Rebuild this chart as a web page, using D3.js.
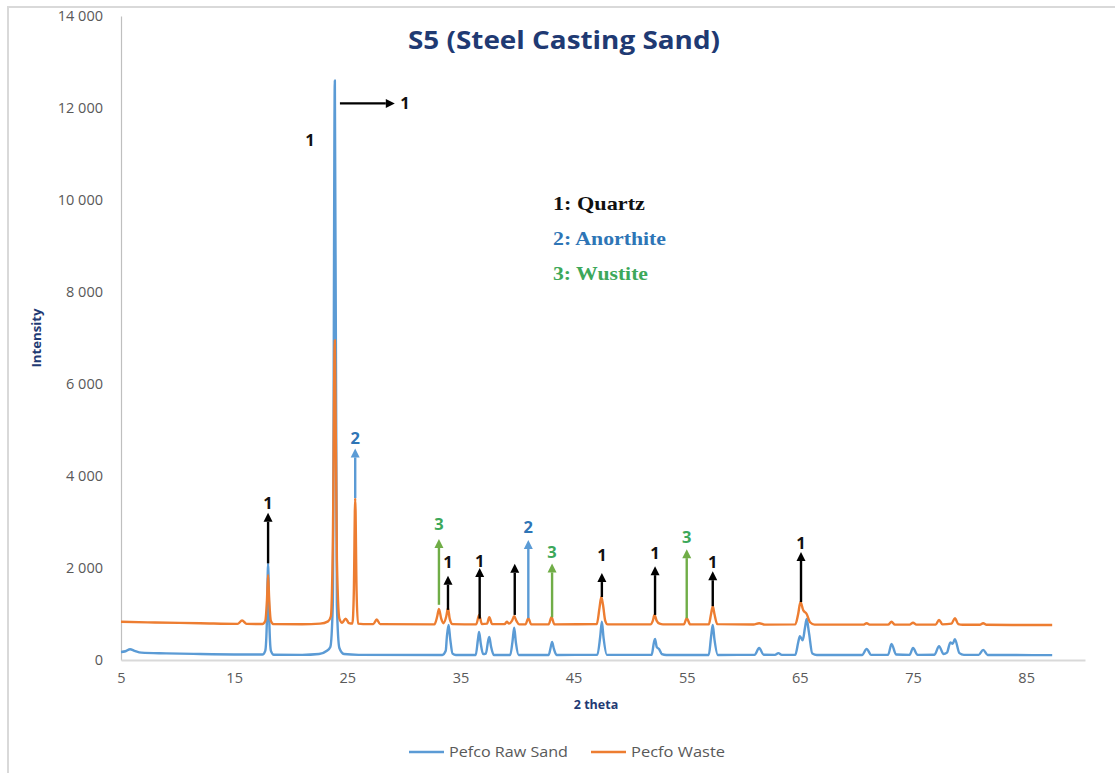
<!DOCTYPE html>
<html>
<head>
<meta charset="utf-8">
<script src="https://cdn.jsdelivr.net/npm/d3@7"></script>
<style>
  html, body { margin: 0; padding: 0; background: #fff; }
  svg { display: block; }
</style>
</head>
<body>
<svg id="chart" width="1115" height="773"></svg>
<script>
// XRD patterns, [2θ, intensity]
const rawSand = [
  [5.0,175],[5.4,190],[5.8,235],[6.2,200],[6.8,160],[9,145],[12,130],[15,120],[17.5,118],
  [17.75,200],[17.9,900],[18.0,2100],[18.1,900],[18.25,200],[18.5,115],[21,112],[22.5,130],
  [23.2,200],[23.5,280],[23.72,1200],[23.9,12600],[24.08,1200],[24.3,260],[24.7,130],[26,112],
  [33.4,110],[33.7,200],[33.8,500],[33.95,760],[34.1,450],[34.3,140],[34.6,110],
  [36.35,110],[36.55,450],[36.65,610],[36.8,350],[37.0,130],[37.25,140],[37.45,420],[37.55,500],
  [37.7,300],[37.95,110],[39.4,110],[39.6,400],[39.75,700],[39.9,380],[40.15,110],
  [42.8,110],[43.0,300],[43.1,390],[43.25,250],[43.5,110],[47.1,112],[47.35,500],[47.5,830],
  [47.65,480],[47.95,112],[51.9,112],[52.1,380],[52.2,460],[52.35,280],[52.55,240],[52.8,130],
  [53.2,110],[56.95,110],[57.15,500],[57.3,760],[57.45,450],[57.75,110],[61.0,112],[61.4,260],
  [61.8,115],[62.8,112],[63.1,150],[63.4,112],[64.6,115],[64.85,380],[65.0,520],[65.25,430],
  [65.45,700],[65.6,890],[65.8,600],[66.1,140],[66.5,110],[70.5,110],[70.9,240],[71.3,112],
  [72.8,112],[73.1,350],[73.5,120],[74.7,112],[75.0,260],[75.4,112],[76.9,115],[77.3,300],
  [77.7,130],[78.0,160],[78.3,380],[78.5,350],[78.7,450],[79.1,150],[79.5,112],[80.8,112],
  [81.2,220],[81.6,110],[84,108],[87.3,105]
];

const waste = [
  [5.0,830],[8,815],[12,800],[15.3,785],[15.7,860],[16.1,785],[17.5,782],[17.75,850],[17.9,1300],
  [18.0,1850],[18.1,1300],[18.25,850],[18.5,780],[21,778],[22.6,790],[23.3,840],[23.55,950],
  [23.72,2500],[23.9,6950],[24.08,2200],[24.3,900],[24.55,810],[24.85,900],[25.15,800],[25.45,790],
  [25.58,1500],[25.7,3520],[25.82,1500],[25.95,790],[26.4,780],[27.3,780],[27.6,880],[27.9,780],
  [32.7,775],[32.95,950],[33.1,1110],[33.3,900],[33.5,800],[33.75,950],[33.9,1130],[34.05,900],
  [34.3,780],[36.4,775],[36.65,980],[36.9,780],[37.35,790],[37.55,930],[37.8,780],[38.9,780],
  [39.1,830],[39.3,790],[39.55,850],[39.75,950],[39.95,850],[40.2,775],[40.75,775],[41.0,910],
  [41.25,775],[42.8,775],[43.05,930],[43.3,775],[47.05,780],[47.3,1150],[47.45,1370],[47.6,1200],
  [47.8,850],[48.0,775],[51.8,775],[52.0,850],[52.15,980],[52.35,850],[52.6,790],[52.9,775],
  [54.75,775],[55.0,910],[55.3,775],[56.95,775],[57.15,1000],[57.3,1170],[57.45,1000],[57.7,780],
  [60.9,772],[61.4,800],[61.9,770],[64.6,775],[64.85,1000],[65.05,1260],[65.3,1080],[65.6,1000],
  [65.9,820],[66.3,770],[70.6,768],[70.9,800],[71.2,768],[72.8,768],[73.1,830],[73.4,768],
  [74.7,768],[75.0,810],[75.3,768],[77.0,770],[77.3,870],[77.6,775],[78.4,790],[78.7,910],
  [79.0,780],[79.4,765],[80.9,765],[81.2,800],[81.5,765],[84,762],[87.3,760]
];

const seriesNames = ["Pefco Raw Sand", "Pecfo Waste"];

// Phase markers: position, arrow start/end intensity, label and label height
const markerTheta = [18.0, 25.7, 33.1, 33.9, 36.7, 39.8, 41.0, 43.1, 47.5, 52.2, 55.0, 57.3, 65.1];
const markerFrom  = [2100, 3520, 1200, 1090, 900, 980, 910, 930, 1370, 980, 910, 1170, 1260];
const markerTo    = [3200, 4600, 2630, 1830, 2000, 2090, 2610, 2100, 1890, 2040, 2410, 1930, 2350];
const markerPhase = [1, 2, 3, 1, 1, 1, 2, 3, 1, 1, 3, 1, 1];
const markerLabelAt = [3413, 4826, 2957, 2130, 2152, null, 2891, 2348, 2283, 2326, 2674, 2130, 2543];

// Main quartz reflection call-out
const mainArrow = { theta0: 24.35, theta1: 29.2, value: 12100, labelTheta: 30.1 };
const mainSideLabel = { theta: 21.7, value: 11300 };

const phaseNames = ["1: Quartz", "2: Anorthite", "3: Wustite"];
const phaseNameWidths = [92, 113, 95];
const xTicks = [5, 15, 25, 35, 45, 55, 65, 75, 85];
const yTicks = [0, 2000, 4000, 6000, 8000, 10000, 12000, 14000];

const seriesColors = ["#5B9BD5", "#ED7D31"];
const arrowColors = { 1: "#000000", 2: "#5B9BD5", 3: "#70AD47" };
const labelColors = { 1: "#111111", 2: "#2E75B6", 3: "#3DA85A" };
const phaseTextColors = ["#111111", "#2E75B6", "#3DA85A"];

const svg = d3.select("#chart");
const sans = "'Open Sans', Lato, sans-serif";

// chart frame
svg.append("rect")
  .attr("x", 8).attr("y", 7).attr("width", 1120).attr("height", 780)
  .attr("fill", "none").attr("stroke", "#d9d9d9").attr("stroke-width", 2);

const x = d3.scaleLinear().domain([5, 90.2]).range([121, 1085]);
const y = d3.scaleLinear().domain([0, 14000]).range([660, 16]);

// title
svg.append("text")
  .attr("x", 564).attr("y", 49)
  .attr("text-anchor", "middle")
  .attr("font-family", sans).attr("font-weight", 700).attr("font-size", 25)
  .attr("textLength", 312).attr("lengthAdjust", "spacingAndGlyphs")
  .attr("fill", "#1F3A73")
  .text("S5 (Steel Casting Sand)");

// y axis
const yAxis = svg.append("g").attr("transform", "translate(121,0)")
  .call(d3.axisLeft(y).tickValues(yTicks).tickSize(0).tickPadding(18)
    .tickFormat(d => d3.format(",")(d).replace(/,/g, " ")));
yAxis.select(".domain").attr("stroke", "#bfbfbf").attr("stroke-width", 1.2);
yAxis.selectAll("text").attr("font-family", sans).attr("font-size", 14.5).attr("fill", "#595959");

// x axis
const xAxis = svg.append("g").attr("transform", "translate(0,660)")
  .call(d3.axisBottom(x).tickValues(xTicks).tickSize(0).tickPadding(13).tickFormat(d3.format("d")));
xAxis.select(".domain").attr("stroke", "#d9d9d9").attr("stroke-width", 2);
xAxis.selectAll("text").attr("font-family", sans).attr("font-size", 14.5).attr("fill", "#595959");

// axis titles
svg.append("text")
  .attr("transform", "translate(41,338) rotate(-90)")
  .attr("text-anchor", "middle")
  .attr("font-family", sans).attr("font-weight", 700).attr("font-size", 12.5)
  .attr("textLength", 59).attr("lengthAdjust", "spacingAndGlyphs")
  .attr("fill", "#1F3A73").text("Intensity");
svg.append("text")
  .attr("x", 596).attr("y", 709)
  .attr("text-anchor", "middle")
  .attr("font-family", sans).attr("font-weight", 700).attr("font-size", 12.5)
  .attr("fill", "#1F3A73").text("2 theta");

// diffraction curves
const line = d3.line().x(d => x(d[0])).y(d => y(d[1])).curve(d3.curveMonotoneX);
[rawSand, waste].forEach((s, i) => {
  svg.append("path").datum(s)
    .attr("d", line)
    .attr("fill", "none")
    .attr("stroke", seriesColors[i])
    .attr("stroke-width", 2.4)
    .attr("stroke-linejoin", "round");
});

// arrow helper: shaft plus filled head
function arrow(x1, y1, x2, y2, color) {
  const len = Math.hypot(x2 - x1, y2 - y1);
  const ux = (x2 - x1) / len, uy = (y2 - y1) / len;
  const head = 9, half = 4.5;
  const bx = x2 - ux * head, by = y2 - uy * head;
  svg.append("line")
    .attr("x1", x1).attr("y1", y1).attr("x2", bx).attr("y2", by)
    .attr("stroke", color).attr("stroke-width", 2.4);
  svg.append("path")
    .attr("d", `M${x2},${y2} L${bx - uy * half},${by + ux * half} L${bx + uy * half},${by - ux * half} Z`)
    .attr("fill", color);
}

markerTheta.forEach((t, i) => {
  const ph = markerPhase[i];
  arrow(x(t), y(markerFrom[i]), x(t), y(markerTo[i]), arrowColors[ph]);
  if (markerLabelAt[i] !== null) {
    svg.append("text")
      .attr("x", x(t)).attr("y", y(markerLabelAt[i]))
      .attr("dy", "0.36em")
      .attr("text-anchor", "middle")
      .attr("font-family", sans).attr("font-weight", 700).attr("font-size", 16.5)
      .attr("fill", labelColors[ph])
      .text(ph);
  }
});

// horizontal call-out at the strongest reflection
arrow(x(mainArrow.theta0), y(mainArrow.value), x(mainArrow.theta1), y(mainArrow.value), "#000000");
svg.append("text")
  .attr("x", x(mainArrow.labelTheta)).attr("y", y(mainArrow.value))
  .attr("dy", "0.36em").attr("text-anchor", "middle")
  .attr("font-family", sans).attr("font-weight", 700).attr("font-size", 16.5)
  .attr("fill", "#111").text("1");
svg.append("text")
  .attr("x", x(mainSideLabel.theta)).attr("y", y(mainSideLabel.value))
  .attr("dy", "0.36em").attr("text-anchor", "middle")
  .attr("font-family", sans).attr("font-weight", 700).attr("font-size", 16.5)
  .attr("fill", "#111").text("1");

// phase key
phaseNames.forEach((n, i) => {
  svg.append("text")
    .attr("x", 553).attr("y", 210 + i * 35)
    .attr("font-family", "'Liberation Serif', 'DejaVu Serif', serif")
    .attr("font-weight", 700).attr("font-size", 19)
    .attr("textLength", phaseNameWidths[i]).attr("lengthAdjust", "spacingAndGlyphs")
    .attr("fill", phaseTextColors[i])
    .text(n);
});

// series legend
const legendX = [409, 591];
const legendTextWidths = [119, 94];
seriesNames.forEach((n, i) => {
  svg.append("line")
    .attr("x1", legendX[i]).attr("x2", legendX[i] + 35)
    .attr("y1", 752).attr("y2", 752)
    .attr("stroke", seriesColors[i]).attr("stroke-width", 2.4);
  svg.append("text")
    .attr("x", legendX[i] + 40).attr("y", 757)
    .attr("font-family", sans).attr("font-size", 15)
    .attr("textLength", legendTextWidths[i]).attr("lengthAdjust", "spacingAndGlyphs")
    .attr("fill", "#595959")
    .text(n);
});
</script>
</body>
</html>
